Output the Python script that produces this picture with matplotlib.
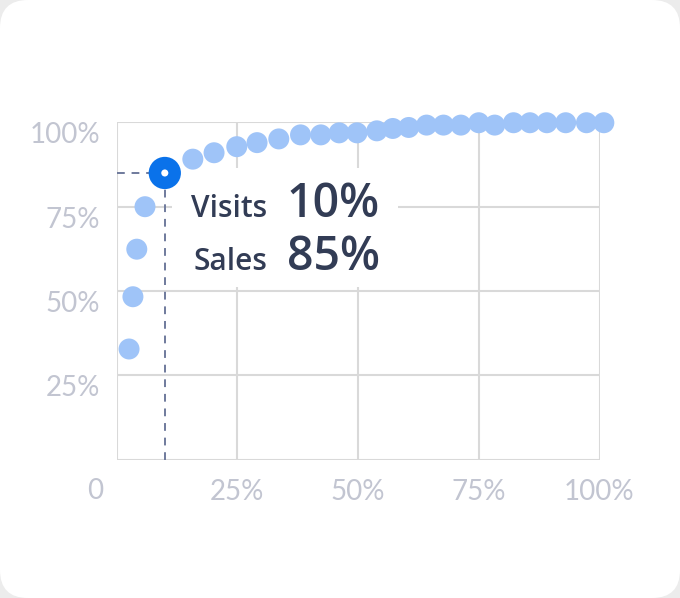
import matplotlib
matplotlib.use('Agg')
import matplotlib.pyplot as plt
from matplotlib.patches import FancyBboxPatch, Rectangle
import matplotlib.transforms as mtransforms

# ---- data ----
visits = [2.6, 3.4, 4.2, 5.9, 10, 15.8, 20.2, 24.9, 29.1, 33.6, 38.1, 42.3, 46.1,
          49.8, 53.9, 57.2, 60.5, 64.2, 67.7, 71.3, 75.0, 78.3, 82.2, 85.6, 89.1,
          93.0, 97.3, 100.9]
sales = [32.8, 48.3, 62.4, 75.0, 85, 89.1, 91.0, 92.8, 94.0, 95.1, 96.3, 96.3, 96.9,
         96.9, 97.5, 98.2, 98.5, 99.2, 99.2, 99.2, 99.9, 99.2, 99.9, 99.9, 99.9,
         99.9, 99.9, 99.9]
highlight_idx = 4
tick_vals = [25, 50, 75, 100]
tick_labels = ['25%', '50%', '75%', '100%']
label_visits = 'Visits'
label_sales = 'Sales'

# ---- figure ----
fig = plt.figure(figsize=(6.8, 5.98), dpi=100)
fig.patch.set_facecolor('#ececec')
card = FancyBboxPatch((0.0, 0.0), 6.8, 5.98,
                      boxstyle='round,pad=0,rounding_size=0.28',
                      transform=fig.dpi_scale_trans, facecolor='white',
                      edgecolor='none', zorder=-10)
fig.add_artist(card)

ax = fig.add_axes([116.5 / 680, 138.4 / 598, 483 / 680, 337.2 / 598])
ax.set_zorder(1)
ax.set_facecolor('none')
ax.set_xlim(0, 100)
ax.set_ylim(0, 100)
for s in ax.spines.values():
    s.set_visible(False)

grid_c = '#d9d9d9'
for v in [0] + tick_vals:
    ax.axhline(v, color=grid_c, lw=1.5, zorder=1)
    ax.axvline(v, color=grid_c, lw=1.5, zorder=1)

tick_font = dict(family=['Lato', 'DejaVu Sans'], weight='normal', size=20, color='#c2c5d1')
ax.set_xticks(tick_vals)
ax.set_xticklabels(tick_labels, **tick_font)
ax.set_yticks(tick_vals)
ax.set_yticklabels(tick_labels, **tick_font)
for lab in ax.get_yticklabels():
    lab.set_va('top')
ax.tick_params(axis='both', length=0)
ax.tick_params(axis='x', pad=14)
ax.tick_params(axis='y', pad=12)
ax.text(0, 0, '0', transform=ax.transAxes + mtransforms.ScaledTranslation(-0.215, -0.31, fig.dpi_scale_trans),
        ha='center', va='center', **tick_font)

# dashed guide lines
hx, hy = visits[highlight_idx], sales[highlight_idx]
dash_c = '#6f7a9c'
ax.plot([0, hx], [hy, hy], color=dash_c, lw=1.4, ls=(0, (4, 3.5)), zorder=2)
ax.plot([hx, hx], [0, hy], color=dash_c, lw=1.4, ls=(0, (4, 3.5)), zorder=2)

# white label box
ax.add_patch(Rectangle((11.5, 51.2), 46.8, 35.3, facecolor='white', edgecolor='none', zorder=3))

# points
others_x = [v for i, v in enumerate(visits) if i != highlight_idx]
others_y = [v for i, v in enumerate(sales) if i != highlight_idx]
ax.scatter(others_x, others_y, s=228, color='#9fc4f8', edgecolors='none', zorder=4, clip_on=False)
ax.scatter([hx], [hy], s=540, color='#0a72ea', edgecolors='none', zorder=5, clip_on=False)
ax.scatter([hx], [hy], s=26, color='white', edgecolors='none', zorder=6, clip_on=False)

txt_c = '#323c55'
lab_font = dict(family=['Open Sans', 'DejaVu Sans'], weight='semibold', size=21.5, color=txt_c)
val_font = dict(family=['Open Sans', 'DejaVu Sans'], weight='semibold', size=33.5, color=txt_c)
ax.text(31.2, 72.0, label_visits, ha='right', va='baseline', zorder=7, **lab_font)
ax.text(35.3, 72.0, f'{hx:.0f}%', ha='left', va='baseline', zorder=7, **val_font)
ax.text(31.2, 56.2, label_sales, ha='right', va='baseline', zorder=7, **lab_font)
ax.text(35.3, 56.2, f'{hy:.0f}%', ha='left', va='baseline', zorder=7, **val_font)

fig.savefig('out.png', dpi=100, facecolor=fig.get_facecolor())
